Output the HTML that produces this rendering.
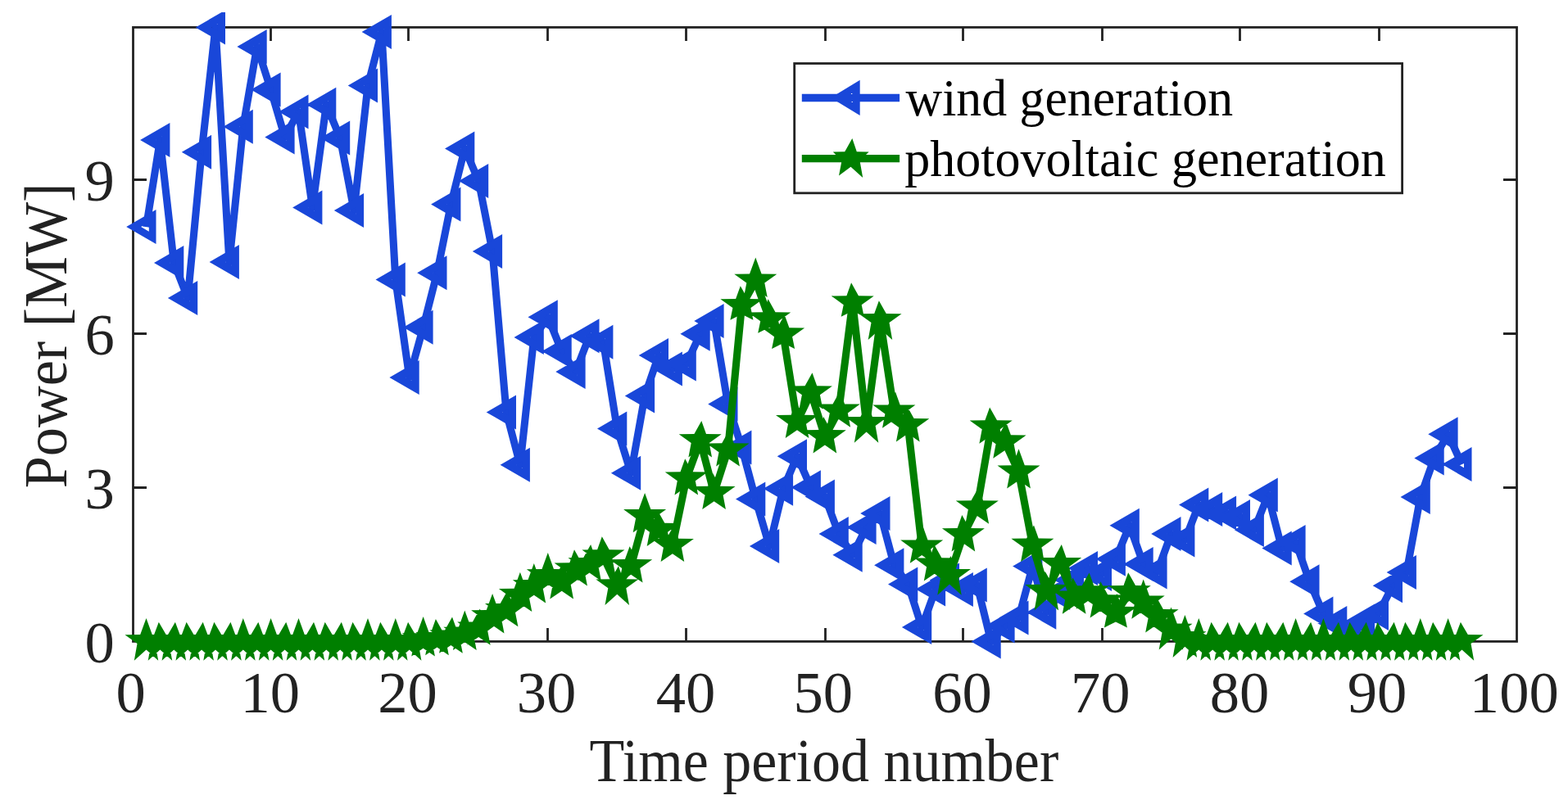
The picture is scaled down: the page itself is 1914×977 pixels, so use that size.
<!DOCTYPE html>
<html lang="en">
<head>
<meta charset="utf-8">
<title>Wind and photovoltaic generation</title>
<style>
html,body{margin:0;padding:0;background:#fff;}
body{width:1914px;height:977px;overflow:hidden;}
svg{display:block;}
text{font-family:"Liberation Serif","Times New Roman",Times,serif;}
.tk{font-size:72.6px;fill:#222222;}
.lb{font-size:73.5px;fill:#222222;}
.lg{font-size:63px;fill:#000;}
</style>
</head>
<body>
<svg width="1914" height="977" viewBox="0 0 1914 977">
<rect x="0" y="0" width="1914" height="977" fill="#fff"/>
<defs><clipPath id="cp"><rect x="0" y="15" width="1914" height="977"/></clipPath></defs>
<g fill="none" stroke="#222222" stroke-width="2.8" stroke-linecap="butt">
<rect x="162.5" y="33.4" width="1689" height="750"/>
<path d="M330.5 783.4v-16.5M330.5 33.4v16.5M498.5 783.4v-16.5M498.5 33.4v16.5M668.5 783.4v-16.5M668.5 33.4v16.5M837.5 783.4v-16.5M837.5 33.4v16.5M1007.5 783.4v-16.5M1007.5 33.4v16.5M1175.5 783.4v-16.5M1175.5 33.4v16.5M1345.5 783.4v-16.5M1345.5 33.4v16.5M1513.5 783.4v-16.5M1513.5 33.4v16.5M1683.5 783.4v-16.5M1683.5 33.4v16.5M162.5 595.5h16.5M1851.5 595.5h-16.5M162.5 407.5h16.5M1851.5 407.5h-16.5M162.5 219.5h16.5M1851.5 219.5h-16.5"/>
</g>
<g class="tk" text-anchor="middle">
<text x="159.6" y="869.6">0</text>
<text x="329.7" y="869.6">10</text>
<text x="497.6" y="869.6">20</text>
<text x="667" y="869.6">30</text>
<text x="837" y="869.6">40</text>
<text x="1004.7" y="869.6">50</text>
<text x="1174.5" y="869.6">60</text>
<text x="1343.2" y="869.6">70</text>
<text x="1513" y="869.6">80</text>
<text x="1681" y="869.6">90</text>
<text x="1848.3" y="869.6">100</text>
</g>
<g class="tk" text-anchor="end">
<text x="139.9" y="809.3">0</text>
<text x="139.9" y="621.3">3</text>
<text x="139.9" y="433.3">6</text>
<text x="139.9" y="245.3">9</text>
</g>
<text class="lb" x="719.5" y="953.6" textLength="572.7" lengthAdjust="spacingAndGlyphs">Time period number</text>
<text class="lb" transform="translate(81.4 596.3) rotate(-90)" textLength="372.7" lengthAdjust="spacingAndGlyphs">Power [MW]</text>
<g fill="#1947D9" stroke="none" clip-path="url(#cp)">
<path fill="none" stroke="#1947D9" stroke-width="9.1" stroke-linejoin="round" d="M178.5 277.1L195.4 170.9L212.3 320.9L229.2 364L246.1 185.8L263 33.4L279.9 320L296.8 154.7L313.7 56.9L330.6 109.6L347.6 167.4L364.5 136.5L381.4 253.4L398.3 127.8L415.2 168.6L432.1 257.1L449 104.6L465.9 39L482.8 341.5L499.7 460.9L516.6 399.7L533.5 333.3L550.4 249.6L567.3 181.5L584.2 220.9L601.1 307.1L618 503.4L634.9 567.8L651.8 412.1L668.8 387.3L685.7 429L702.6 454L719.5 410.3L736.4 417.8L753.3 523.4L770.2 577.8L787.1 483.4L804 434L820.9 450.5L837.8 444.6L854.7 407.8L871.6 392.1L888.5 493.4L905.4 546.5L922.3 609.6L939.2 667.1L956.1 596.8L973 557.2L989.9 595.3L1006.9 606.5L1023.8 652.1L1040.7 677.8L1057.6 644L1074.5 627.1L1091.4 690.3L1108.3 713.4L1125.2 765.9L1142.1 719.6L1159 708.6L1175.9 720L1192.8 714.6L1209.7 783.4L1226.6 764.6L1243.5 754.6L1260.4 691.5L1277.3 747.8L1294.2 724L1311.1 708.4L1328 694L1345 700.9L1361.9 682.8L1378.8 641.8L1395.7 689L1412.6 698.4L1429.5 652.1L1446.4 659.6L1463.3 616.5L1480.2 622.1L1497.1 626.5L1514 630.9L1530.9 647.1L1547.8 604.6L1564.7 669.6L1581.6 662.1L1598.5 710.3L1615.4 749.6L1632.3 761L1649.2 769.5L1666.1 758.4L1683 748.9L1700 715.3L1716.9 699L1733.8 607.1L1750.7 559.6L1767.6 530.3L1784.5 567.1"/>
<path fill-rule="nonzero" d="M154.2 277.1L190.5 256.1L190.5 298.1ZM172.1 277.1L181.8 282.7L181.8 271.5ZM171.1 170.9L207.4 149.9L207.4 191.9ZM190.6 170.9L197.9 175.1L197.9 166.7ZM188 320.9L224.3 299.9L224.3 341.9ZM207.5 320.9L214.8 325.1L214.8 316.7ZM204.9 364L241.2 343L241.2 385ZM224.4 364L231.7 368.2L231.7 359.8ZM221.8 185.8L258.1 164.8L258.1 206.8ZM241.3 185.8L248.6 190L248.6 181.6ZM238.7 33.4L275 12.4L275 54.4ZM258.2 33.4L265.5 37.6L265.5 29.2ZM255.6 320L291.9 299L291.9 341ZM275.1 320L282.4 324.2L282.4 315.8ZM272.5 154.7L308.8 133.7L308.8 175.7ZM292 154.7L299.3 158.9L299.3 150.5ZM289.4 56.9L325.7 35.9L325.7 77.9ZM308.9 56.9L316.2 61.1L316.2 52.7ZM306.3 109.6L342.6 88.6L342.6 130.6ZM325.8 109.6L333.1 113.8L333.1 105.4ZM323.3 167.4L359.6 146.4L359.6 188.4ZM342.8 167.4L350 171.6L350 163.2ZM340.2 136.5L376.5 115.5L376.5 157.5ZM359.7 136.5L366.9 140.7L366.9 132.3ZM357.1 253.4L393.4 232.4L393.4 274.4ZM376.6 253.4L383.8 257.6L383.8 249.2ZM374 127.8L410.3 106.8L410.3 148.8ZM393.5 127.8L400.7 132L400.7 123.6ZM390.9 168.6L427.2 147.6L427.2 189.6ZM410.4 168.6L417.7 172.8L417.7 164.4ZM407.8 257.1L444.1 236.1L444.1 278.1ZM427.3 257.1L434.6 261.3L434.6 252.9ZM424.7 104.6L461 83.6L461 125.6ZM444.2 104.6L451.5 108.8L451.5 100.4ZM441.6 39L477.9 18L477.9 60ZM461.1 39L468.4 43.2L468.4 34.8ZM458.5 341.5L494.8 320.5L494.8 362.5ZM478 341.5L485.3 345.7L485.3 337.3ZM475.4 460.9L511.7 439.9L511.7 481.9ZM494.9 460.9L502.2 465.1L502.2 456.7ZM492.3 399.7L528.6 378.7L528.6 420.7ZM511.8 399.7L519.1 403.9L519.1 395.5ZM509.2 333.3L545.5 312.3L545.5 354.3ZM528.7 333.3L536 337.5L536 329.1ZM526.1 249.6L562.4 228.6L562.4 270.6ZM545.6 249.6L552.9 253.8L552.9 245.4ZM543 181.5L579.3 160.5L579.3 202.5ZM562.5 181.5L569.8 185.7L569.8 177.3ZM559.9 220.9L596.2 199.9L596.2 241.9ZM579.4 220.9L586.7 225.1L586.7 216.7ZM576.8 307.1L613.1 286.1L613.1 328.1ZM596.3 307.1L603.6 311.3L603.6 302.9ZM593.7 503.4L630 482.4L630 524.4ZM613.2 503.4L620.5 507.6L620.5 499.2ZM610.6 567.8L646.9 546.8L646.9 588.8ZM630.1 567.8L637.4 572L637.4 563.6ZM627.5 412.1L663.8 391.1L663.8 433.1ZM647 412.1L654.3 416.3L654.3 407.9ZM644.5 387.3L680.8 366.3L680.8 408.3ZM664 387.3L671.2 391.5L671.2 383.1ZM661.4 429L697.7 408L697.7 450ZM680.9 429L688.1 433.2L688.1 424.8ZM678.3 454L714.6 433L714.6 475ZM697.8 454L705 458.2L705 449.8ZM695.2 410.3L731.5 389.3L731.5 431.3ZM714.7 410.3L721.9 414.5L721.9 406.1ZM712.1 417.8L748.4 396.8L748.4 438.8ZM731.6 417.8L738.8 422L738.8 413.6ZM729 523.4L765.3 502.4L765.3 544.4ZM748.5 523.4L755.8 527.6L755.8 519.2ZM745.9 577.8L782.2 556.8L782.2 598.8ZM765.4 577.8L772.7 582L772.7 573.6ZM762.8 483.4L799.1 462.4L799.1 504.4ZM782.3 483.4L789.6 487.6L789.6 479.2ZM779.7 434L816 413L816 455ZM799.2 434L806.5 438.2L806.5 429.8ZM796.6 450.5L832.9 429.5L832.9 471.5ZM816.1 450.5L823.4 454.7L823.4 446.3ZM813.5 444.6L849.8 423.6L849.8 465.6ZM833 444.6L840.3 448.8L840.3 440.4ZM830.4 407.8L866.7 386.8L866.7 428.8ZM849.9 407.8L857.2 412L857.2 403.6ZM847.3 392.1L883.6 371.1L883.6 413.1ZM866.8 392.1L874.1 396.3L874.1 387.9ZM864.2 493.4L900.5 472.4L900.5 514.4ZM883.7 493.4L891 497.6L891 489.2ZM881.1 546.5L917.4 525.5L917.4 567.5ZM900.6 546.5L907.9 550.7L907.9 542.3ZM898 609.6L934.3 588.6L934.3 630.6ZM917.5 609.6L924.8 613.8L924.8 605.4ZM914.9 667.1L951.2 646.1L951.2 688.1ZM934.4 667.1L941.7 671.3L941.7 662.9ZM931.8 596.8L968.1 575.8L968.1 617.8ZM951.3 596.8L958.6 601L958.6 592.6ZM948.7 557.2L985 536.2L985 578.2ZM968.2 557.2L975.5 561.4L975.5 553ZM965.6 595.3L1001.9 574.3L1001.9 616.3ZM985.1 595.3L992.4 599.5L992.4 591.1ZM982.6 606.5L1018.9 585.5L1018.9 627.5ZM1002.1 606.5L1009.3 610.7L1009.3 602.3ZM999.5 652.1L1035.8 631.1L1035.8 673.1ZM1019 652.1L1026.2 656.3L1026.2 647.9ZM1016.4 677.8L1052.7 656.8L1052.7 698.8ZM1035.9 677.8L1043.1 682L1043.1 673.6ZM1033.3 644L1069.6 623L1069.6 665ZM1052.8 644L1060 648.2L1060 639.8ZM1050.2 627.1L1086.5 606.1L1086.5 648.1ZM1069.7 627.1L1076.9 631.3L1076.9 622.9ZM1067.1 690.3L1103.4 669.3L1103.4 711.3ZM1086.6 690.3L1093.8 694.5L1093.8 686.1ZM1084 713.4L1120.3 692.4L1120.3 734.4ZM1103.5 713.4L1110.8 717.6L1110.8 709.2ZM1100.9 765.9L1137.2 744.9L1137.2 786.9ZM1120.4 765.9L1127.7 770.1L1127.7 761.7ZM1117.8 719.6L1154.1 698.6L1154.1 740.6ZM1137.3 719.6L1144.6 723.8L1144.6 715.4ZM1134.7 708.6L1171 687.6L1171 729.6ZM1154.2 708.6L1161.5 712.8L1161.5 704.4ZM1151.6 720L1187.9 699L1187.9 741ZM1171.1 720L1178.4 724.2L1178.4 715.8ZM1168.5 714.6L1204.8 693.6L1204.8 735.6ZM1188 714.6L1195.3 718.8L1195.3 710.4ZM1185.4 783.4L1221.7 762.4L1221.7 804.4ZM1204.9 783.4L1212.2 787.6L1212.2 779.2ZM1202.3 764.6L1238.6 743.6L1238.6 785.6ZM1221.8 764.6L1229.1 768.8L1229.1 760.4ZM1219.2 754.6L1255.5 733.6L1255.5 775.6ZM1238.7 754.6L1246 758.8L1246 750.4ZM1236.1 691.5L1272.4 670.5L1272.4 712.5ZM1255.6 691.5L1262.9 695.7L1262.9 687.3ZM1253 747.8L1289.3 726.8L1289.3 768.8ZM1272.5 747.8L1279.8 752L1279.8 743.6ZM1269.9 724L1306.2 703L1306.2 745ZM1289.4 724L1296.7 728.2L1296.7 719.8ZM1286.8 708.4L1323.1 687.4L1323.1 729.4ZM1306.3 708.4L1313.6 712.6L1313.6 704.2ZM1303.7 694L1340 673L1340 715ZM1323.2 694L1330.5 698.2L1330.5 689.8ZM1320.7 700.9L1357 679.9L1357 721.9ZM1340.2 700.9L1347.4 705.1L1347.4 696.7ZM1337.6 682.8L1373.9 661.8L1373.9 703.8ZM1357.1 682.8L1364.3 687L1364.3 678.6ZM1354.5 641.8L1390.8 620.8L1390.8 662.8ZM1374 641.8L1381.2 646L1381.2 637.6ZM1371.4 689L1407.7 668L1407.7 710ZM1390.9 689L1398.1 693.2L1398.1 684.8ZM1388.3 698.4L1424.6 677.4L1424.6 719.4ZM1407.8 698.4L1415 702.6L1415 694.2ZM1405.2 652.1L1441.5 631.1L1441.5 673.1ZM1424.7 652.1L1431.9 656.3L1431.9 647.9ZM1422.1 659.6L1458.4 638.6L1458.4 680.6ZM1441.6 659.6L1448.9 663.8L1448.9 655.4ZM1439 616.5L1475.3 595.5L1475.3 637.5ZM1458.5 616.5L1465.8 620.7L1465.8 612.3ZM1455.9 622.1L1492.2 601.1L1492.2 643.1ZM1475.4 622.1L1482.7 626.3L1482.7 617.9ZM1472.8 626.5L1509.1 605.5L1509.1 647.5ZM1492.3 626.5L1499.6 630.7L1499.6 622.3ZM1489.7 630.9L1526 609.9L1526 651.9ZM1509.2 630.9L1516.5 635.1L1516.5 626.7ZM1506.6 647.1L1542.9 626.1L1542.9 668.1ZM1526.1 647.1L1533.4 651.3L1533.4 642.9ZM1523.5 604.6L1559.8 583.6L1559.8 625.6ZM1543 604.6L1550.3 608.8L1550.3 600.4ZM1540.4 669.6L1576.7 648.6L1576.7 690.6ZM1559.9 669.6L1567.2 673.8L1567.2 665.4ZM1557.3 662.1L1593.6 641.1L1593.6 683.1ZM1576.8 662.1L1584.1 666.3L1584.1 657.9ZM1574.2 710.3L1610.5 689.3L1610.5 731.3ZM1593.7 710.3L1601 714.5L1601 706.1ZM1591.1 749.6L1627.4 728.6L1627.4 770.6ZM1610.6 749.6L1617.9 753.8L1617.9 745.4ZM1608 761L1644.3 740L1644.3 782ZM1627.5 761L1634.8 765.2L1634.8 756.8ZM1624.9 769.5L1661.2 748.5L1661.2 790.5ZM1644.4 769.5L1651.7 773.7L1651.7 765.3ZM1641.8 758.4L1678.1 737.4L1678.1 779.4ZM1661.3 758.4L1668.6 762.6L1668.6 754.2ZM1658.8 748.9L1695 727.9L1695 769.9ZM1678.2 748.9L1685.5 753.1L1685.5 744.7ZM1675.7 715.3L1712 694.3L1712 736.3ZM1695.2 715.3L1702.4 719.5L1702.4 711.1ZM1692.6 699L1728.9 678L1728.9 720ZM1712.1 699L1719.3 703.2L1719.3 694.8ZM1709.5 607.1L1745.8 586.1L1745.8 628.1ZM1729 607.1L1736.2 611.3L1736.2 602.9ZM1726.4 559.6L1762.7 538.6L1762.7 580.6ZM1745.9 559.6L1753.1 563.8L1753.1 555.4ZM1743.3 530.3L1779.6 509.3L1779.6 551.3ZM1762.8 530.3L1770 534.5L1770 526.1ZM1760.2 567.1L1796.5 546.1L1796.5 588.1ZM1779.7 567.1L1787 571.3L1787 562.9Z"/>
</g>
<g fill="#007F00" stroke="none" clip-path="url(#cp)">
<path fill="none" stroke="#007F00" stroke-width="9.1" stroke-linejoin="round" d="M178.5 783.4L195.4 783.4L212.3 783.4L229.2 783.4L246.1 783.4L263 783.4L279.9 783.4L296.8 783.4L313.7 783.4L330.6 783.4L347.6 783.4L364.5 783.4L381.4 783.4L398.3 783.4L415.2 783.4L432.1 783.4L449 783.4L465.9 783.4L482.8 783.4L499.7 783.4L516.6 781.5L533.5 780.3L550.4 777.8L567.3 774L584.2 767.8L601.1 753.4L618 745.3L634.9 727.1L651.8 716.5L668.8 703.4L685.7 711.5L702.6 695.6L719.5 689.4L736.4 679.6L753.3 715.6L770.2 691.5L787.1 630.3L804 647.1L820.9 666.1L837.8 584.6L854.7 538.4L871.6 602.1L888.5 549.6L905.4 373.5L922.3 343L939.2 389.6L956.1 408.7L973 515.1L989.9 479.6L1006.9 533.4L1023.8 501.8L1040.7 369.6L1057.6 517.3L1074.5 391.5L1091.4 502.8L1108.3 519.4L1125.2 667.8L1142.1 689.6L1159 703.3L1175.9 653.4L1192.8 619.7L1209.7 521.7L1226.6 539.7L1243.5 576.6L1260.4 665.9L1277.3 722.1L1294.2 689.3L1311.1 729.8L1328 723.7L1345 734.6L1361.9 749.2L1378.8 723.5L1395.7 735.8L1412.6 752.4L1429.5 770L1446.4 779.5L1463.3 783.4L1480.2 783.4L1497.1 783.4L1514 783.4L1530.9 783.4L1547.8 783.4L1564.7 783.4L1581.6 783.4L1598.5 783.4L1615.4 783.4L1632.3 783.4L1649.2 783.4L1666.1 783.4L1683 783.4L1700 783.4L1716.9 783.4L1733.8 783.4L1750.7 783.4L1767.6 783.4L1784.5 783.4"/>
<path d="M178.5 755L185.8 775L204.5 775.2L189.5 786L193.2 806.8L178.5 793.6L163.8 806.8L167.5 786L152.5 775.2L171.2 775ZM193.8 759.8L202.7 775L221.4 775.2L206.4 786L210.2 806.8L195.4 793.6L180.7 806.8L184.4 786L169.4 775.2L188.1 775ZM213.9 759.8L219.6 775L238.3 775.2L223.3 786L227.1 806.8L212.3 793.6L197.6 806.8L201.3 786L186.3 775.2L205 775ZM227.6 759.8L236.5 775L255.2 775.2L240.2 786L244 806.8L229.2 793.6L214.5 806.8L218.2 786L203.2 775.2L221.9 775ZM247.7 759.8L253.4 775L272.1 775.2L257.1 786L260.9 806.8L246.1 793.6L231.4 806.8L235.1 786L220.1 775.2L238.8 775ZM261.4 759.8L270.3 775L289 775.2L274 786L277.8 806.8L263 793.6L248.3 806.8L252 786L237 775.2L255.7 775ZM281.5 759.8L287.2 775L305.9 775.2L290.9 786L294.7 806.8L279.9 793.6L265.2 806.8L268.9 786L253.9 775.2L272.6 775ZM296.8 755L304.1 775L322.8 775.2L307.8 786L311.6 806.8L296.8 793.6L282.1 806.8L285.8 786L270.8 775.2L289.5 775ZM315.3 759.8L321 775L339.7 775.2L324.7 786L328.5 806.8L313.7 793.6L299 806.8L302.7 786L287.7 775.2L306.4 775ZM330.6 755L337.9 775L356.6 775.2L341.6 786L345.4 806.8L330.6 793.6L315.9 806.8L319.6 786L304.6 775.2L323.3 775ZM349.2 759.8L354.9 775L373.6 775.2L358.6 786L362.3 806.8L347.6 793.6L332.8 806.8L336.6 786L321.6 775.2L340.3 775ZM364.5 755L371.8 775L390.5 775.2L375.5 786L379.2 806.8L364.5 793.6L349.7 806.8L353.5 786L338.5 775.2L357.2 775ZM383 759.8L388.7 775L407.4 775.2L392.4 786L396.1 806.8L381.4 793.6L366.6 806.8L370.4 786L355.4 775.2L374.1 775ZM396.7 759.8L405.6 775L424.3 775.2L409.3 786L413 806.8L398.3 793.6L383.5 806.8L387.3 786L372.3 775.2L391 775ZM416.8 759.8L422.5 775L441.2 775.2L426.2 786L429.9 806.8L415.2 793.6L400.4 806.8L404.2 786L389.2 775.2L407.9 775ZM430.5 759.8L439.4 775L458.1 775.2L443.1 786L446.8 806.8L432.1 793.6L417.3 806.8L421.1 786L406.1 775.2L424.8 775ZM449 755L456.3 775L475 775.2L460 786L463.7 806.8L449 793.6L434.2 806.8L438 786L423 775.2L441.7 775ZM464.3 759.8L473.2 775L491.9 775.2L476.9 786L480.6 806.8L465.9 793.6L451.1 806.8L454.9 786L439.9 775.2L458.6 775ZM482.8 755L490.1 775L508.8 775.2L493.8 786L497.5 806.8L482.8 793.6L468.1 806.8L471.8 786L456.8 775.2L475.5 775ZM498.1 759.8L507 775L525.7 775.2L510.7 786L514.4 806.8L499.7 793.6L485 806.8L488.7 786L473.7 775.2L492.4 775ZM516.6 753.1L523.9 773.1L542.6 773.3L527.6 784.1L530.9 801.5L516.6 791.7L502.3 801.5L505.6 784.1L490.6 773.3L509.3 773.1ZM531.9 756L540.8 771.9L559.5 772.1L544.5 782.9L547.8 800.3L533.5 790.5L519.2 800.3L522.5 782.9L507.5 772.1L526.2 771.9ZM552 753.5L557.7 769.4L576.4 769.6L561.4 780.4L564.8 797.8L550.4 788L536.1 797.8L539.4 780.4L524.4 769.6L543.1 769.4ZM567.3 745.6L574.6 765.6L593.3 765.8L578.3 776.6L581.7 794L567.3 784.2L553 794L556.3 776.6L541.3 765.8L560 765.6ZM585.8 743.5L591.5 759.4L610.2 759.6L595.2 770.4L598.6 787.8L584.2 778L569.9 787.8L573.2 770.4L558.2 759.6L576.9 759.4ZM601.1 725L608.4 745L627.1 745.2L612.1 756L615.5 773.4L601.1 763.6L586.8 773.4L590.1 756L575.1 745.2L593.8 745ZM619.6 721L625.3 736.9L644 737.1L629 747.9L632.4 765.3L618 755.5L603.7 765.3L607 747.9L592 737.1L610.7 736.9ZM634.9 698.7L642.2 718.7L660.9 718.9L645.9 729.7L649.3 747.1L634.9 737.3L620.6 747.1L623.9 729.7L608.9 718.9L627.6 718.7ZM651.8 688.1L659.1 708.1L677.8 708.3L662.8 719.1L666.2 736.5L651.8 726.7L637.5 736.5L640.8 719.1L625.8 708.3L644.5 708.1ZM668.8 675L676 695L694.8 695.2L679.8 706L683.1 723.4L668.8 713.6L654.4 723.4L657.8 706L642.8 695.2L661.5 695ZM687.3 687.2L693 703.1L711.7 703.3L696.7 714.1L700 731.5L685.7 721.7L671.3 731.5L674.7 714.1L659.7 703.3L678.4 703.1ZM701 671.3L709.9 687.2L728.6 687.4L713.6 698.2L716.9 715.6L702.6 705.8L688.2 715.6L691.6 698.2L676.6 687.4L695.3 687.2ZM721.1 665.1L726.8 681L745.5 681.2L730.5 692L733.8 709.4L719.5 699.6L705.1 709.4L708.5 692L693.5 681.2L712.2 681ZM734.8 655.3L743.7 671.2L762.4 671.4L747.4 682.2L750.7 699.6L736.4 689.8L722 699.6L725.4 682.2L710.4 671.4L729.1 671.2ZM754.9 691.3L760.6 707.2L779.3 707.4L764.3 718.2L768 739L753.3 725.8L738.5 739L742.3 718.2L727.3 707.4L746 707.2ZM768.6 667.2L777.5 683.1L796.2 683.3L781.2 694.1L784.5 711.5L770.2 701.7L755.8 711.5L759.2 694.1L744.2 683.3L762.9 683.1ZM787.1 601.9L794.4 621.9L813.1 622.1L798.1 632.9L801.4 650.3L787.1 640.5L772.7 650.3L776.1 632.9L761.1 622.1L779.8 621.9ZM802.4 622.8L811.3 638.7L830 638.9L815 649.7L818.3 667.1L804 657.3L789.7 667.1L793 649.7L778 638.9L796.7 638.7ZM822.5 641.8L828.2 657.7L846.9 657.9L831.9 668.7L835.2 686.1L820.9 676.3L806.6 686.1L809.9 668.7L794.9 657.9L813.6 657.7ZM836.2 560.3L845.1 576.2L863.8 576.4L848.8 587.2L852.1 604.6L837.8 594.8L823.5 604.6L826.8 587.2L811.8 576.4L830.5 576.2ZM856.3 514.1L862 530L880.7 530.2L865.7 541L869 558.4L854.7 548.6L840.4 558.4L843.7 541L828.7 530.2L847.4 530ZM870 577.8L878.9 593.7L897.6 593.9L882.6 604.7L885.9 622.1L871.6 612.3L857.3 622.1L860.6 604.7L845.6 593.9L864.3 593.7ZM890.1 525.3L895.8 541.2L914.5 541.4L899.5 552.2L902.9 569.6L888.5 559.8L874.2 569.6L877.5 552.2L862.5 541.4L881.2 541.2ZM903.8 349.2L912.7 365.1L931.4 365.3L916.4 376.1L919.4 390.7L905.4 383.7L891.4 390.7L894.4 376.1L879.4 365.3L898.1 365.1ZM922.3 314.6L929.6 334.6L948.3 334.8L933.3 345.6L936.7 363L922.3 353.2L908 363L911.3 345.6L896.3 334.8L915 334.6ZM937.6 365.3L946.5 381.2L965.2 381.4L950.2 392.2L953.2 406.8L939.2 399.8L925.2 406.8L928.2 392.2L913.2 381.4L931.9 381.2ZM957.7 384.4L963.4 400.3L982.1 400.5L967.1 411.3L970.1 425.9L956.1 418.9L942.1 425.9L945.1 411.3L930.1 400.5L948.8 400.3ZM971.4 490.8L980.3 506.7L999 506.9L984 517.7L987.4 535.1L973 525.3L958.7 535.1L962 517.7L947 506.9L965.7 506.7ZM991.5 455.3L997.2 471.2L1015.9 471.4L1000.9 482.2L1004.3 499.6L989.9 489.8L975.6 499.6L978.9 482.2L963.9 471.4L982.6 471.2ZM1005.2 509.1L1014.1 525L1032.8 525.2L1017.9 536L1021.2 553.4L1006.9 543.6L992.5 553.4L995.9 536L980.9 525.2L999.6 525ZM1025.4 477.5L1031.1 493.4L1049.8 493.6L1034.8 504.4L1038.1 521.8L1023.8 512L1009.4 521.8L1012.8 504.4L997.8 493.6L1016.5 493.4ZM1039.1 345.3L1048 361.2L1066.7 361.4L1051.7 372.2L1054.7 386.8L1040.7 379.8L1026.7 386.8L1029.7 372.2L1014.7 361.4L1033.4 361.2ZM1059.2 493L1064.9 508.9L1083.6 509.1L1068.6 519.9L1072.3 540.7L1057.6 527.5L1042.8 540.7L1046.6 519.9L1031.6 509.1L1050.3 508.9ZM1072.9 367.2L1081.8 383.1L1100.5 383.3L1085.5 394.1L1089.2 414.9L1074.5 401.7L1059.7 414.9L1063.5 394.1L1048.5 383.3L1067.2 383.1ZM1093 478.5L1098.7 494.4L1117.4 494.6L1102.4 505.4L1105.7 522.8L1091.4 513L1077 522.8L1080.4 505.4L1065.4 494.6L1084.1 494.4ZM1106.7 495.1L1115.6 511L1134.3 511.2L1119.3 522L1122.6 539.4L1108.3 529.6L1093.9 539.4L1097.3 522L1082.3 511.2L1101 511ZM1126.8 643.5L1132.5 659.4L1151.2 659.6L1136.2 670.4L1139.5 687.8L1125.2 678L1110.8 687.8L1114.2 670.4L1099.2 659.6L1117.9 659.4ZM1140.5 665.3L1149.4 681.2L1168.1 681.4L1153.1 692.2L1156.4 709.6L1142.1 699.8L1127.8 709.6L1131.1 692.2L1116.1 681.4L1134.8 681.2ZM1160.6 679L1166.3 694.9L1185 695.1L1170 705.9L1173.7 726.7L1159 713.5L1144.3 726.7L1148 705.9L1133 695.1L1151.7 694.9ZM1174.3 629.1L1183.2 645L1201.9 645.2L1186.9 656L1190.2 673.4L1175.9 663.6L1161.6 673.4L1164.9 656L1149.9 645.2L1168.6 645ZM1194.4 595.4L1200.1 611.3L1218.8 611.5L1203.8 622.3L1207.1 639.7L1192.8 629.9L1178.5 639.7L1181.8 622.3L1166.8 611.5L1185.5 611.3ZM1208.1 497.4L1217 513.3L1235.7 513.5L1220.7 524.3L1224 541.7L1209.7 531.9L1195.4 541.7L1198.7 524.3L1183.7 513.5L1202.4 513.3ZM1228.2 515.4L1233.9 531.3L1252.6 531.5L1237.6 542.3L1241 559.7L1226.6 549.9L1212.3 559.7L1215.6 542.3L1200.6 531.5L1219.3 531.3ZM1243.5 548.2L1250.8 568.2L1269.5 568.4L1254.5 579.2L1257.9 596.6L1243.5 586.8L1229.2 596.6L1232.5 579.2L1217.5 568.4L1236.2 568.2ZM1262 641.6L1267.7 657.5L1286.4 657.7L1271.4 668.5L1274.8 685.9L1260.4 676.1L1246.1 685.9L1249.4 668.5L1234.4 657.7L1253.1 657.5ZM1275.7 697.8L1284.6 713.7L1303.3 713.9L1288.3 724.7L1292.1 745.5L1277.3 732.3L1262.6 745.5L1266.3 724.7L1251.3 713.9L1270 713.7ZM1295.8 665L1301.5 680.9L1320.2 681.1L1305.2 691.9L1308.6 709.3L1294.2 699.5L1279.9 709.3L1283.2 691.9L1268.2 681.1L1286.9 680.9ZM1309.5 705.5L1318.4 721.4L1337.1 721.6L1322.1 732.4L1325.5 749.8L1311.1 740L1296.8 749.8L1300.1 732.4L1285.1 721.6L1303.8 721.4ZM1329.6 699.4L1335.3 715.3L1354 715.5L1339 726.3L1342.4 743.7L1328 733.9L1313.7 743.7L1317 726.3L1302 715.5L1320.7 715.3ZM1343.4 710.3L1352.2 726.2L1371 726.4L1356 737.2L1359.3 754.6L1345 744.8L1330.6 754.6L1334 737.2L1319 726.4L1337.7 726.2ZM1363.5 724.9L1369.2 740.8L1387.9 741L1372.9 751.8L1375.9 766.4L1361.9 759.4L1347.9 766.4L1350.9 751.8L1335.9 741L1354.6 740.8ZM1377.2 699.2L1386.1 715.1L1404.8 715.3L1389.8 726.1L1393.1 743.5L1378.8 733.7L1364.4 743.5L1367.8 726.1L1352.8 715.3L1371.5 715.1ZM1395.7 707.4L1403 727.4L1421.7 727.6L1406.7 738.4L1410 755.8L1395.7 746L1381.3 755.8L1384.7 738.4L1369.7 727.6L1388.4 727.4ZM1411 728.1L1419.9 744L1438.6 744.2L1423.6 755L1426.9 772.4L1412.6 762.6L1398.2 772.4L1401.6 755L1386.6 744.2L1405.3 744ZM1429.5 741.6L1436.8 761.6L1455.5 761.8L1440.5 772.6L1444.2 793.4L1429.5 780.2L1414.7 793.4L1418.5 772.6L1403.5 761.8L1422.2 761.6ZM1446.4 751.1L1453.7 771.1L1472.4 771.3L1457.4 782.1L1461.1 802.9L1446.4 789.7L1431.6 802.9L1435.4 782.1L1420.4 771.3L1439.1 771.1ZM1463.3 755L1470.6 775L1489.3 775.2L1474.3 786L1478 806.8L1463.3 793.6L1448.5 806.8L1452.3 786L1437.3 775.2L1456 775ZM1478.6 759.8L1487.5 775L1506.2 775.2L1491.2 786L1494.9 806.8L1480.2 793.6L1465.4 806.8L1469.2 786L1454.2 775.2L1472.9 775ZM1498.7 759.8L1504.4 775L1523.1 775.2L1508.1 786L1511.8 806.8L1497.1 793.6L1482.4 806.8L1486.1 786L1471.1 775.2L1489.8 775ZM1512.4 759.8L1521.3 775L1540 775.2L1525 786L1528.7 806.8L1514 793.6L1499.3 806.8L1503 786L1488 775.2L1506.7 775ZM1532.5 759.8L1538.2 775L1556.9 775.2L1541.9 786L1545.6 806.8L1530.9 793.6L1516.2 806.8L1519.9 786L1504.9 775.2L1523.6 775ZM1546.2 759.8L1555.1 775L1573.8 775.2L1558.8 786L1562.6 806.8L1547.8 793.6L1533.1 806.8L1536.8 786L1521.8 775.2L1540.5 775ZM1566.3 759.8L1572 775L1590.7 775.2L1575.7 786L1579.5 806.8L1564.7 793.6L1550 806.8L1553.7 786L1538.7 775.2L1557.4 775ZM1581.6 755L1588.9 775L1607.6 775.2L1592.6 786L1596.4 806.8L1581.6 793.6L1566.9 806.8L1570.6 786L1555.6 775.2L1574.3 775ZM1600.1 759.8L1605.8 775L1624.5 775.2L1609.5 786L1613.3 806.8L1598.5 793.6L1583.8 806.8L1587.5 786L1572.5 775.2L1591.2 775ZM1615.4 755L1622.7 775L1641.4 775.2L1626.4 786L1630.2 806.8L1615.4 793.6L1600.7 806.8L1604.4 786L1589.4 775.2L1608.1 775ZM1633.9 759.8L1639.6 775L1658.3 775.2L1643.3 786L1647.1 806.8L1632.3 793.6L1617.6 806.8L1621.3 786L1606.3 775.2L1625 775ZM1647.6 759.8L1656.5 775L1675.2 775.2L1660.2 786L1664 806.8L1649.2 793.6L1634.5 806.8L1638.2 786L1623.2 775.2L1641.9 775ZM1667.7 759.8L1673.4 775L1692.1 775.2L1677.1 786L1680.9 806.8L1666.1 793.6L1651.4 806.8L1655.1 786L1640.1 775.2L1658.8 775ZM1681.5 759.8L1690.3 775L1709 775.2L1694 786L1697.8 806.8L1683 793.6L1668.3 806.8L1672 786L1657 775.2L1675.8 775ZM1701.6 759.8L1707.3 775L1726 775.2L1711 786L1714.7 806.8L1700 793.6L1685.2 806.8L1689 786L1674 775.2L1692.7 775ZM1715.3 759.8L1724.2 775L1742.9 775.2L1727.9 786L1731.6 806.8L1716.9 793.6L1702.1 806.8L1705.9 786L1690.9 775.2L1709.6 775ZM1733.8 755L1741.1 775L1759.8 775.2L1744.8 786L1748.5 806.8L1733.8 793.6L1719 806.8L1722.8 786L1707.8 775.2L1726.5 775ZM1749.1 759.8L1758 775L1776.7 775.2L1761.7 786L1765.4 806.8L1750.7 793.6L1735.9 806.8L1739.7 786L1724.7 775.2L1743.4 775ZM1767.6 755L1774.9 775L1793.6 775.2L1778.6 786L1782.3 806.8L1767.6 793.6L1752.8 806.8L1756.6 786L1741.6 775.2L1760.3 775ZM1782.9 759.8L1791.8 775L1810.5 775.2L1795.5 786L1799.2 806.8L1784.5 793.6L1769.7 806.8L1773.5 786L1758.5 775.2L1777.2 775Z"/>
</g>
<rect x="969.7" y="77.5" width="741.9" height="158.3" fill="#fff" stroke="#222222" stroke-width="2.8"/>
<path d="M978.8 119.5H1098.1" stroke="#1947D9" stroke-width="9.5" fill="none"/>
<path d="M1014.2 119.3L1049.7 97.7L1049.7 140.9Z" fill="#1947D9"/>
<path d="M1038.9 113.9h1.4v1.1h-1.4zM1039.6 123.9h1.2v1.1h-1.2z" fill="#fff"/>
<path d="M978.8 193.6H1098.1" stroke="#007F00" stroke-width="9.4" fill="none"/>
<path d="M1040.3 168.9L1045.8 185.2L1060.6 185.4L1049.5 196.2L1053.2 217L1038.5 203.8L1024 214.6L1027.5 196.2L1016.8 185.4L1031.2 185.2Z" fill="#007F00"/>
<text class="lg" x="1105.6" y="140.5" textLength="399.5" lengthAdjust="spacingAndGlyphs">wind generation</text>
<text class="lg" x="1104.2" y="214.6" textLength="587.6" lengthAdjust="spacingAndGlyphs">photovoltaic generation</text>
</svg>
</body>
</html>
